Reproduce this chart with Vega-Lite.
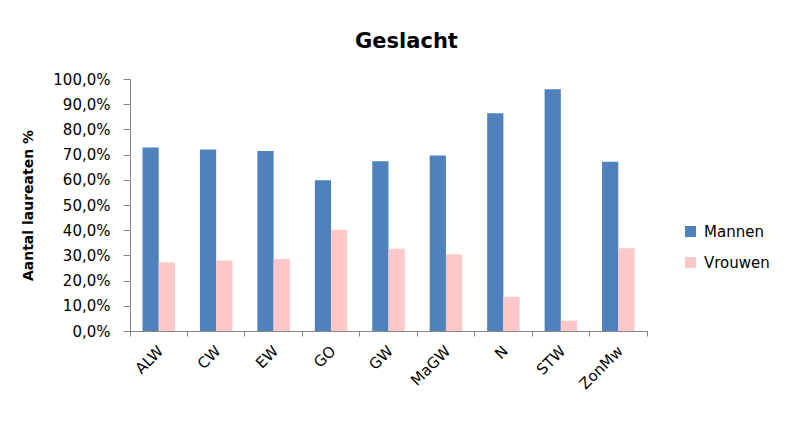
{
  "$schema": "https://vega.github.io/schema/vega-lite/v6.json",
  "width": 517,
  "height": 252,
  "autosize": {"type": "none"},
  "padding": {"left": 130, "top": 79, "right": 145, "bottom": 94},
  "background": "white",
  "title": {"text": "Geslacht", "font": "DejaVu Sans", "fontSize": 21, "fontWeight": "bold", "color": "#000000", "anchor": "middle", "dx": 18, "offset": 20},
  "data": {"values": [
    {"Discipline": "ALW", "Geslacht": "Mannen", "Percentage": 0.728},
    {"Discipline": "ALW", "Geslacht": "Vrouwen", "Percentage": 0.272},
    {"Discipline": "CW", "Geslacht": "Mannen", "Percentage": 0.72},
    {"Discipline": "CW", "Geslacht": "Vrouwen", "Percentage": 0.28},
    {"Discipline": "EW", "Geslacht": "Mannen", "Percentage": 0.714},
    {"Discipline": "EW", "Geslacht": "Vrouwen", "Percentage": 0.286},
    {"Discipline": "GO", "Geslacht": "Mannen", "Percentage": 0.598},
    {"Discipline": "GO", "Geslacht": "Vrouwen", "Percentage": 0.402},
    {"Discipline": "GW", "Geslacht": "Mannen", "Percentage": 0.674},
    {"Discipline": "GW", "Geslacht": "Vrouwen", "Percentage": 0.326},
    {"Discipline": "MaGW", "Geslacht": "Mannen", "Percentage": 0.696},
    {"Discipline": "MaGW", "Geslacht": "Vrouwen", "Percentage": 0.304},
    {"Discipline": "N", "Geslacht": "Mannen", "Percentage": 0.864},
    {"Discipline": "N", "Geslacht": "Vrouwen", "Percentage": 0.136},
    {"Discipline": "STW", "Geslacht": "Mannen", "Percentage": 0.959},
    {"Discipline": "STW", "Geslacht": "Vrouwen", "Percentage": 0.041},
    {"Discipline": "ZonMw", "Geslacht": "Mannen", "Percentage": 0.672},
    {"Discipline": "ZonMw", "Geslacht": "Vrouwen", "Percentage": 0.328}
  ]},
  "mark": {"type": "bar"},
  "encoding": {
    "x": {
      "field": "Discipline", "type": "nominal", "sort": null,
      "scale": {"paddingInner": 0, "paddingOuter": 0},
      "axis": {
        "title": null, "bandPosition": 1, "tickExtra": true,
        "labelAngle": -45, "labelAlign": "right", "labelBaseline": "middle",
        "labelOffset": 2, "labelPadding": 12,
        "labelFont": "DejaVu Sans", "labelFontSize": 15, "labelColor": "#000000",
        "domainColor": "#868686", "tickColor": "#868686", "tickSize": 5
      }
    },
    "xOffset": {
      "field": "Geslacht", "type": "nominal", "sort": ["Mannen", "Vrouwen"],
      "scale": {"paddingInner": 0, "paddingOuter": 0.77}
    },
    "y": {
      "field": "Percentage", "type": "quantitative",
      "scale": {"domain": [0, 1]},
      "axis": {
        "title": "Aantal laureaten %", "titleFont": "DejaVu Sans", "titleFontSize": 14,
        "titleFontWeight": "bold", "titleColor": "#000000", "titlePadding": 17,
        "values": [0, 0.1, 0.2, 0.3, 0.4, 0.5, 0.6, 0.7, 0.8, 0.9, 1.0],
        "labelExpr": "replace(format(datum.value, '.1%'), '.', ',')",
        "labelFont": "DejaVu Sans", "labelFontSize": 15, "labelColor": "#000000",
        "labelPadding": 13, "tickSize": 7, "grid": false,
        "domainColor": "#868686", "tickColor": "#868686"
      }
    },
    "color": {
      "field": "Geslacht", "type": "nominal",
      "scale": {"domain": ["Mannen", "Vrouwen"], "range": ["#4F81BD", "#FFC8C8"]},
      "legend": {
        "title": null, "orient": "none", "legendX": 553, "legendY": 145,
        "symbolType": "square", "symbolSize": 121, "symbolStrokeWidth": 0, "symbolOpacity": 1,
        "labelFont": "DejaVu Sans", "labelFontSize": 15, "labelColor": "#000000",
        "rowPadding": 15, "labelOffset": 6
      }
    }
  },
  "config": {"view": {"stroke": null}}
}
